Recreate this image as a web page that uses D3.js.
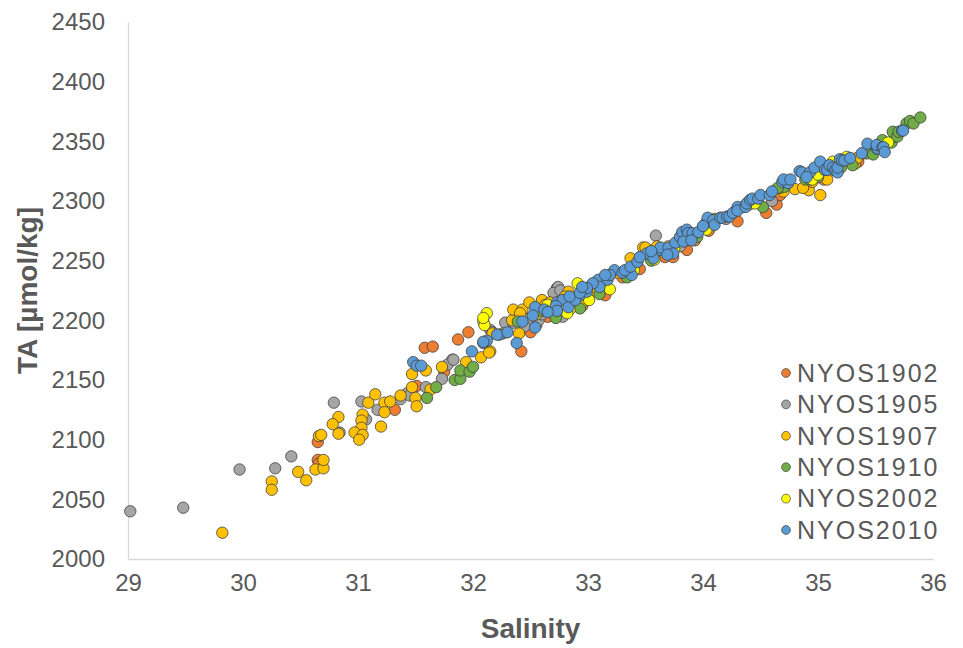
<!DOCTYPE html>
<html>
<head>
<meta charset="utf-8">
<script src="https://cdn.jsdelivr.net/npm/d3@7"></script>
<style>
  html, body { margin: 0; padding: 0; background: #ffffff; }
  svg { display: block; }
  text { font-family: "Century Gothic", "Liberation Sans", Arial, sans-serif; fill: #595959; }
</style>
</head>
<body>
<svg id="chart" width="963" height="648"></svg>
<script>
// ---------- DATA ----------
const seriesNames = ["NYOS1902", "NYOS1905", "NYOS1907", "NYOS1910", "NYOS2002", "NYOS2010"];
const seriesColors = ["#ED7D31", "#A5A5A5", "#FFC000", "#70AD47", "#FFFF00", "#5B9BD5"];

const xTicks = [29, 30, 31, 32, 33, 34, 35, 36];
const yTicks = [2000, 2050, 2100, 2150, 2200, 2250, 2300, 2350, 2400, 2450];

// [Salinity, TA]
const nyos1902 = [
  [30.65,2083],[30.66,2080],[30.65,2098],[31.32,2125],[31.51,2145],[31.58,2177],[31.65,2178],
  [31.75,2157],[31.87,2184],[31.96,2190],[32.42,2174],[32.65,2203],[33.15,2221],[33.74,2253],
  [33.67,2253],[33.86,2259],[33.93,2267],[33.86,2267],[34.55,2290],[34.64,2297],[34.67,2305],
  [35.05,2318],[32.55,2196],[33.30,2236],[32.50,2190],[32.95,2212],[33.45,2243],[34.30,2283],
  [34.05,2275],[35.35,2333]
];
const nyos1905 = [
  [29.02,2040],[29.48,2043],[29.97,2075],[30.28,2076],[30.42,2086],[30.79,2131],[30.84,2106],
  [31.03,2132],[31.07,2117],[31.17,2125],[31.37,2134],[31.43,2139],[31.45,2137],[31.59,2144],
  [31.73,2151],[31.82,2167],[31.78,2163],[31.83,2167],[32.15,2192],[32.17,2190],[32.28,2198],
  [32.35,2198],[32.48,2201],[32.57,2200],[32.73,2227],[32.74,2228],[32.70,2223],[32.78,2203],
  [32.76,2225],[33.59,2271],[33.00,2222],[33.30,2240],[34.20,2285],[35.10,2325],[32.45,2195],
  [32.60,2205],[32.90,2215],[33.15,2230],[33.80,2262],[34.60,2300],[35.30,2335]
];
const nyos1907 = [
  [29.82,2022],[30.25,2065],[30.25,2058],[30.48,2073],[30.55,2066],[30.63,2075],[30.70,2076],
  [30.70,2083],[30.66,2103],[30.68,2104],[30.83,2119],[30.78,2113],[30.83,2105],[31.09,2131],
  [31.15,2138],[31.04,2121],[31.03,2116],[31.03,2110],[30.97,2106],[31.04,2104],[31.01,2100],
  [31.20,2111],[31.23,2131],[31.23,2123],[31.28,2132],[31.37,2137],[31.47,2144],[31.50,2135],
  [31.51,2128],[31.47,2155],[31.59,2158],[31.63,2142],[31.73,2161],[31.94,2165],[32.07,2169],
  [32.15,2174],[32.14,2173],[32.17,2189],[32.26,2189],[32.34,2200],[32.40,2189],[32.35,2209],
  [32.43,2209],[32.41,2206],[32.49,2215],[32.60,2217],[32.67,2215],[32.63,2213],[32.83,2224],
  [33.11,2226],[33.37,2252],[33.48,2261],[33.50,2261],[34.80,2310],[34.92,2309],[35.02,2305],
  [34.87,2311],[35.08,2318],[35.17,2332],[35.32,2331],[35.34,2336],[35.41,2340],[32.95,2215],
  [33.60,2262],[34.95,2316],[32.55,2205],[32.70,2210],[32.80,2220],[33.05,2225],[33.25,2240],
  [33.70,2262],[34.10,2285],[34.40,2297],[34.70,2308],[35.45,2342],[35.55,2346]
];
const nyos1910 = [
  [31.60,2135],[31.68,2144],[31.84,2150],[31.89,2151],[31.89,2158],[31.97,2157],[32.00,2161],
  [32.39,2199],[32.72,2202],[32.93,2210],[33.34,2236],[34.52,2295],[34.67,2311],[34.71,2312],
  [34.65,2311],[34.89,2318],[34.93,2318],[35.43,2340],[35.48,2339],[35.56,2351],[35.64,2349],
  [35.67,2354],[35.65,2358],[35.69,2354],[35.70,2358],[35.77,2365],[35.80,2367],[35.83,2365],
  [35.89,2370],[34.05,2281],[35.20,2328],[32.60,2208],[33.10,2222],[33.55,2250],[33.95,2270],
  [34.35,2295],[35.00,2320],[35.30,2330]
];
const nyos2002 = [
  [32.12,2206],[32.09,2199],[32.10,2196],[32.09,2202],[32.91,2231],[32.84,2209],[33.01,2217],
  [33.19,2226],[33.58,2251],[34.03,2276],[34.95,2318],[35.25,2337],[35.13,2333],[35.61,2349],
  [32.82,2206],[32.65,2213],[33.40,2242],[33.75,2260],[34.45,2298],[35.00,2322]
];
const nyos2010 = [
  [31.48,2165],[31.51,2162],[31.55,2162],[31.99,2174],[32.09,2181],[32.12,2183],[32.09,2182],
  [32.23,2188],[32.21,2188],[32.38,2181],[32.43,2199],[32.54,2194],[32.54,2211],[32.52,2204],
  [32.62,2209],[32.73,2215],[32.78,2217],[32.72,2212],[32.73,2208],[32.83,2211],[32.93,2221],
  [32.99,2224],[32.89,2217],[32.84,2220],[33.09,2234],[33.17,2234],[33.10,2228],[33.04,2231],
  [32.99,2227],[32.93,2223],[33.23,2242],[33.30,2240],[33.38,2238],[33.19,2238],[33.32,2242],
  [33.37,2245],[33.43,2249],[33.51,2256],[33.57,2252],[33.63,2259],[33.63,2261],[33.70,2261],
  [33.76,2265],[33.74,2256],[33.69,2255],[33.80,2270],[33.82,2274],[33.86,2276],[33.87,2273],
  [33.91,2273],[33.83,2266],[33.90,2267],[33.96,2274],[34.03,2282],[34.04,2286],[34.09,2284],
  [34.10,2280],[34.15,2286],[34.17,2286],[34.21,2287],[34.23,2287],[34.26,2290],[34.30,2295],
  [34.30,2292],[34.37,2295],[34.38,2298],[34.41,2301],[34.43,2302],[34.48,2302],[34.50,2305],
  [34.58,2305],[34.69,2316],[34.74,2315],[34.70,2318],[34.76,2318],[34.84,2325],[34.86,2324],
  [34.93,2324],[34.97,2328],[35.02,2333],[35.06,2326],[35.08,2326],[35.10,2330],[35.13,2328],
  [35.15,2326],[35.17,2324],[35.17,2328],[35.19,2335],[35.21,2334],[35.23,2334],[35.38,2340],
  [35.43,2348],[35.51,2344],[35.52,2344],[35.51,2347],[35.56,2345],[35.57,2345],[35.58,2341],
  [35.73,2359],[35.74,2359],[32.30,2190],[32.65,2207],[32.95,2228],[33.15,2238],[33.45,2253],
  [33.55,2258],[34.00,2279],[34.60,2308],[34.90,2320],[35.28,2336]
];
const seriesData = [nyos1902, nyos1905, nyos1907, nyos1910, nyos2002, nyos2010];

// ---------- CHART ----------
const svg = d3.select("#chart");
const plot = { left: 128, right: 933, top: 22, bottom: 559 };

const x = d3.scaleLinear().domain([29, 36]).range([plot.left, plot.right]);
const y = d3.scaleLinear().domain([2000, 2450]).range([plot.bottom, plot.top]);

// axes
const xAxis = d3.axisBottom(x).tickValues(xTicks).tickSize(0).tickPadding(15).tickFormat(d3.format("d"));
const yAxis = d3.axisLeft(y).tickValues(yTicks).tickSize(0).tickPadding(23).tickFormat(d3.format("d"));

const gx = svg.append("g").attr("transform", `translate(0,${plot.bottom})`).call(xAxis);
const gy = svg.append("g").attr("transform", `translate(${plot.left},0)`).call(yAxis);
[gx, gy].forEach(g => {
  g.select(".domain").attr("stroke", "#d9d9d9").attr("stroke-width", 1.3);
  g.selectAll("text").style("font-size", "24px").attr("fill", "#595959")
    .style("font-family", '"Century Gothic", "Liberation Sans", Arial, sans-serif');
});

// axis titles
svg.append("text")
  .attr("x", (plot.left + plot.right) / 2).attr("y", 638)
  .attr("text-anchor", "middle")
  .style("font-size", "28px").style("font-weight", "bold")
  .text("Salinity");

svg.append("text")
  .attr("transform", `translate(37,${(plot.top + plot.bottom) / 2}) rotate(-90)`)
  .attr("text-anchor", "middle")
  .style("font-size", "28px").style("font-weight", "bold")
  .text("TA [µmol/kg]");

// points
seriesData.forEach((data, i) => {
  svg.append("g").selectAll("circle")
    .data(data).enter().append("circle")
    .attr("cx", d => x(d[0]))
    .attr("cy", d => y(d[1]))
    .attr("r", 5.7)
    .attr("fill", seriesColors[i])
    .attr("stroke", "#404040")
    .attr("stroke-width", 0.8);
});

// legend
const legend = svg.append("g");
seriesNames.forEach((name, i) => {
  const ly = 373 + i * 31.4;
  legend.append("circle")
    .attr("cx", 786).attr("cy", ly).attr("r", 4.4)
    .attr("fill", seriesColors[i]).attr("stroke", "#404040").attr("stroke-width", 0.7);
  legend.append("text")
    .attr("x", 797).attr("y", ly).attr("dy", "0.35em")
    .style("font-size", "25px")
    .style("letter-spacing", "2px")
    .text(name);
});
</script>
</body>
</html>
